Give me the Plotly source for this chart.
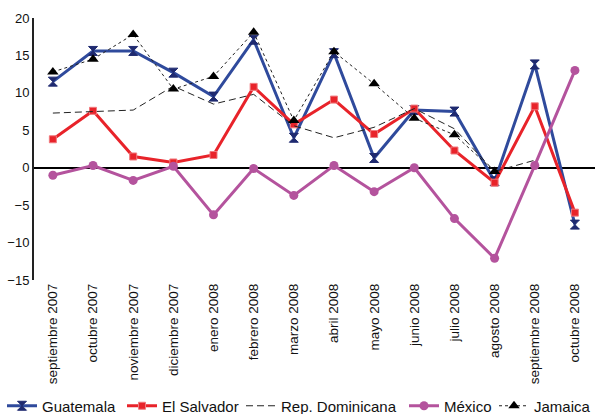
import plotly.graph_objects as go

months = [
    "septiembre 2007", "octubre 2007", "noviembre 2007", "diciembre 2007",
    "enero 2008", "febrero 2008", "marzo 2008", "abril 2008", "mayo 2008",
    "junio 2008", "julio 2008", "agosto 2008", "septiembre 2008", "octubre 2008",
]

guatemala = [11.5, 15.6, 15.6, 12.7, 9.5, 17.1, 4.0, 15.3, 1.3, 7.7, 7.5, -1.8, 13.8, -7.6]
el_salvador = [3.8, 7.6, 1.5, 0.7, 1.7, 10.8, 5.8, 9.1, 4.5, 7.9, 2.3, -2.0, 8.2, -6.0]
rep_dominicana = [7.3, 7.5, 7.7, 10.9, 8.5, 9.8, 5.6, 4.0, 5.4, 7.9, 5.2, -0.5, 1.0, None]
mexico = [-1.0, 0.3, -1.7, 0.2, -6.3, -0.1, -3.7, 0.3, -3.2, 0.0, -6.8, -12.1, 0.3, 13.0]
jamaica = [12.8, 14.5, 17.8, 10.5, 12.2, 18.1, 6.3, 15.5, 11.2, 6.6, 4.4, -0.5, None, None]

y_ticks = [-15, -10, -5, 0, 5, 10, 15, 20]

fig = go.Figure()

fig.add_trace(go.Scatter(
    x=months, y=guatemala, name="Guatemala", mode="lines+markers",
    legend="legend",
    line=dict(color="#2f4a9c", width=3),
    marker=dict(symbol="hourglass", size=9, color="#1f2a70",
                line=dict(color="#1f2a70", width=1)),
))
fig.add_trace(go.Scatter(
    x=months, y=el_salvador, name="El Salvador", mode="lines+markers",
    legend="legend2",
    line=dict(color="#e8232a", width=3),
    marker=dict(symbol="square", size=7, color="#e8232a",
                line=dict(color="#f07a7e", width=1)),
))
fig.add_trace(go.Scatter(
    x=months, y=rep_dominicana, name="Rep. Dominicana", mode="lines",
    legend="legend3",
    line=dict(color="#222222", width=1, dash="7px,4px"),
    connectgaps=False,
))
fig.add_trace(go.Scatter(
    x=months, y=mexico, name="México", mode="lines+markers",
    legend="legend4",
    line=dict(color="#b4539d", width=3),
    marker=dict(symbol="circle", size=9, color="#b4539d"),
))
fig.add_trace(go.Scatter(
    x=months, y=jamaica, name="Jamaica", mode="lines+markers",
    legend="legend5",
    line=dict(color="#222222", width=1, dash="dot"),
    marker=dict(symbol="triangle-up", size=10, color="#000000"),
    connectgaps=False,
))


def legend_box(x_px):
    # one single-entry legend per series, laid out in a row along the bottom
    return dict(
        orientation="h", xref="container", yref="container",
        x=x_px / 595, xanchor="left", y=8 / 414, yanchor="middle",
        font=dict(size=15, color="#111111"),
        bgcolor="rgba(0,0,0,0)", itemwidth=30,
    )


fig.update_layout(
    width=595, height=414,
    margin=dict(l=34, r=0, t=18, b=134),
    paper_bgcolor="white", plot_bgcolor="white",
    font=dict(family="Liberation Sans, Arial, sans-serif", color="#111111"),
    showlegend=True,
    legend=legend_box(2),
    legend2=legend_box(122),
    legend3=legend_box(241),
    legend4=legend_box(404),
    legend5=legend_box(494),
    xaxis=dict(
        type="category", range=[-0.47, 13.5], automargin=False,
        tickangle=-90, tickfont=dict(size=13.5, color="#111111"),
        showgrid=False, showline=False, ticks="", zeroline=False,
    ),
    yaxis=dict(
        range=[-15, 20], tickvals=y_ticks, automargin=False,
        tickfont=dict(size=13, color="#111111"),
        showgrid=False, showline=True, linecolor="#222222", linewidth=2,
        ticks="", zeroline=True, zerolinecolor="#000000", zerolinewidth=1.5,
    ),
)

fig.write_html("out.html")
